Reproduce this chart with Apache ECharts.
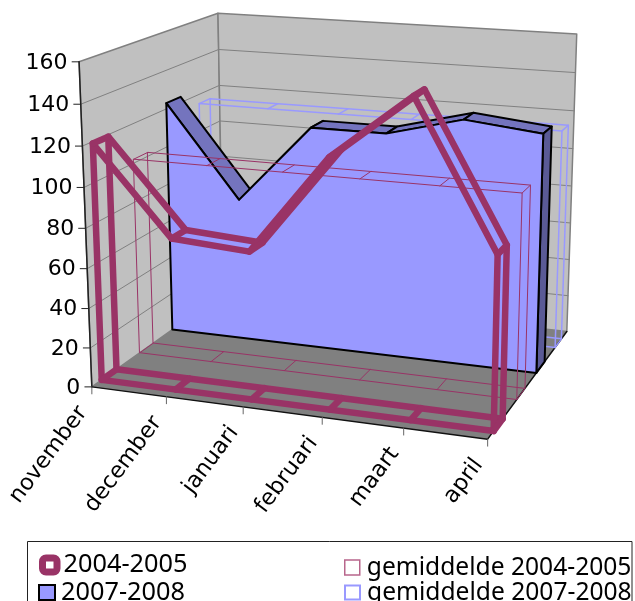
<!DOCTYPE html>
<html><head><meta charset="utf-8">
<style>html,body{margin:0;padding:0;background:#fff;overflow:hidden}#c{width:635px;height:601px}</style>
<script src="https://cdn.jsdelivr.net/npm/echarts@6/dist/echarts.min.js"></script>
</head><body><div id="c"></div>
<script>
const months = ['november','december','januari','februari','maart','april'];
const yTicks = [0,20,40,60,80,100,120,140,160];
const s0405 = [119,76,73.5,122,153,84];
const s0708 = [123,75,116,116,126,122];
const g0405 = [102,102,102,102,102,102];
const g0708 = [115,115,115,115,115,115];
const names = ['2004-2005','2007-2008','gemiddelde 2004-2005','gemiddelde 2007-2008'];
const depth = {a:[0.065,0.165], g1:[0.33,0.43], b:[0.575,0.685], g2:[0.83,0.92]};
const PINK='#993366', BLUE='#9999FF';
const GW=500, GH=500; // hidden grid used as the unit square of the plot box
// calibration of the box: [u,v,z, pageX,pageY, weight]
const CAL=[
 [0,0,0,92,387,3],[1,0,0,488,439,3],[.2,0,0,166,396.7,1],[.4,0,0,242,406.7,1],[.6,0,0,321,417,1],[.8,0,0,403,427.7,1],
 [0,.5,0,85.5,227.7,1],[0,1,0,79,62,3],
 [0,1,1,218,13,3],[1,1,1,576.7,34,3],[1,0,1,566.7,331.7,3],[0,0,1,223.3,288,.3],
 [1,.5,1,572,185,1],[0,.75,1,220,86,1]
];
function fitCamera(cal){
  const n=11,M=Array.from({length:n},()=>new Array(n+1).fill(0));
  const add=(r,b,g)=>{for(let i=0;i<n;i++){for(let j=0;j<n;j++)M[i][j]+=g*r[i]*r[j];M[i][n]+=g*r[i]*b;}};
  cal.forEach(([x,y,z,sx,sy,g])=>{
    add([x,y,z,1,0,0,0,0,-sx*x,-sx*y,-sx*z],sx,g*g);
    add([0,0,0,0,x,y,z,1,-sy*x,-sy*y,-sy*z],sy,g*g);
  });
  for(let c=0;c<n;c++){
    let p=c;for(let r=c+1;r<n;r++)if(Math.abs(M[r][c])>Math.abs(M[p][c]))p=r;
    [M[c],M[p]]=[M[p],M[c]];
    for(let r=0;r<n;r++){if(r===c)continue;const f=M[r][c]/M[c][c];for(let k=c;k<=n;k++)M[r][k]-=f*M[c][k];}
  }
  return M.map((row,i)=>row[n]/row[i]);
}
const K=fitCamera(CAL);
function P(u,v,z){const d=K[8]*u+K[9]*v+K[10]*z+1;return [(K[0]*u+K[1]*v+K[2]*z+K[3])/d,(K[4]*u+K[5]*v+K[6]*z+K[7])/d];}
// data point -> unit box via the hidden axes -> page
function D(api,i,val,z){const c=api.coord([i,val]);return P(c[0]/GW,1-c[1]/GH,z);}

function poly(points,style){return {type:'polygon',shape:{points},style};}
function line(points,stroke,lineWidth,close){return {type:close?'polygon':'polyline',shape:{points},style:{fill:'none',stroke,lineWidth,lineJoin:'round',lineCap:'round'}};}

function renderFrame(params,api){
  if(params.dataIndex!==0) return null;
  const ch=[];
  const wallS={fill:'#C0C0C0',stroke:'#808080',lineWidth:1.5,lineJoin:'round'};
  ch.push(poly([P(0,0,0),P(0,1,0),P(0,1,1),P(0,0,1)],wallS));
  ch.push(poly([P(0,0,1),P(0,1,1),P(1,1,1),P(1,0,1)],wallS));
  ch.push(poly([P(0,0,0),P(1,0,0),P(1,0,1),P(0,0,1)],{fill:'#808080',stroke:'none'}));
  yTicks.slice(1,-1).forEach(t=>{
    const a=D(api,0,t,0),b=D(api,0,t,1),c=D(api,5,t,1);
    ch.push(line([a,b,c],'#808080',1));
  });
  ch.push(line([D(api,0,0,0),D(api,0,160,0)],'#222',1.5));
  ch.push(line([P(0,0,0),P(1,0,0),P(1,0,1)],'#111',1.5));
  yTicks.forEach(t=>{
    const a=D(api,0,t,0);
    ch.push(line([a,[a[0]-7,a[1]]],'#222',1));
    ch.push({type:'text',style:{x:a[0]-11.5,y:a[1]+1,text:String(t),align:'right',verticalAlign:'middle',fontFamily:'DejaVu Sans',fontSize:22,fill:'#000'}});
  });
  months.forEach((m,i)=>{
    const a=D(api,i,0,0);
    ch.push(line([a,[a[0],a[1]+7]],'#666',1));
    ch.push({type:'text',x:a[0]-9,y:a[1]+22,rotation:0.93,style:{x:0,y:0,text:m,align:'right',verticalAlign:'middle',fontFamily:'DejaVu Sans',fontSize:22.5,fill:'#000'}});
  });
  return {type:'group',children:ch};
}
function outline(vals,dz,stroke,lw){
  return function(params,api){
    if(params.dataIndex!==0) return null;
    const ch=[];
    const n=vals.length;
    dz.slice().reverse().forEach(z=>{
      const top=vals.map((v,i)=>D(api,i,v,z));
      ch.push(line(top.concat([D(api,n-1,0,z),D(api,0,0,z)]),stroke,lw,true));
    });
    vals.forEach((v,i)=>{
      ch.push(line([D(api,i,v,dz[0]),D(api,i,v,dz[1])],stroke,lw));
      ch.push(line([D(api,i,0,dz[0]),D(api,i,0,dz[1])],stroke,lw));
    });
    return {type:'group',children:ch};
  };
}
function renderBlock(vals,dz){
  return function(params,api){
    if(params.dataIndex!==0) return null;
    const ch=[],n=vals.length,st=(fill)=>({fill,stroke:'#000',lineWidth:2,lineJoin:'round'});
    vals.forEach((v,i)=>{ if(i<n-1) ch.push(poly([D(api,i,v,dz[0]),D(api,i,v,dz[1]),D(api,i+1,vals[i+1],dz[1]),D(api,i+1,vals[i+1],dz[0])],st('#7474BE'))); });
    ch.push(poly([D(api,n-1,vals[n-1],dz[0]),D(api,n-1,vals[n-1],dz[1]),D(api,n-1,0,dz[1]),D(api,n-1,0,dz[0])],st('#5A5A96')));
    const front=vals.map((v,i)=>D(api,i,v,dz[0])).concat([D(api,n-1,0,dz[0]),D(api,0,0,dz[0])]);
    ch.push(poly(front,st(BLUE)));
    return {type:'group',children:ch};
  };
}
function ser(name,vals,renderItem,z,color){
  return {type:'custom',name,silent:true,z,renderItem,data:vals.map((v,i)=>[i,v]),encode:{x:0,y:1},itemStyle:{color}};
}
function leg(name,left,top,w,hh,icon,color,border,bw,pad,fs){
  return {left,top,padding:0,height:100,orient:'vertical',itemWidth:w,itemHeight:hh,selectedMode:false,
    textStyle:{fontFamily:'Noto Sans',fontSize:fs,color:'#000',padding:pad},
    data:[{name,icon,itemStyle:{color,borderColor:border,borderWidth:bw}}]};
}
const chart=echarts.init(document.getElementById('c'),null,{renderer:'canvas'});
chart.setOption({
  animation:false,
  grid:{left:0,top:0,width:GW,height:GH},
  xAxis:{type:'category',data:months,boundaryGap:false,show:false},
  yAxis:{type:'value',min:0,max:160,interval:20,show:false},
  graphic:[{type:'rect',z:-1,shape:{x:27.5,y:541.5,width:604.5,height:100},style:{fill:'#fff',stroke:'#222',lineWidth:1}}],
  legend:[
   leg(names[0],39,552.5,14.5,14,'roundRect','#fff',PINK,7,[3,0,0,1.5],25.3),
   leg(names[1],38,580,16,15,'rect',BLUE,'#000',2,[0,0,0,1],25.3),
   leg(names[2],344,555,15,15,'rect','#fff','#B8668C',1.5,[0,0,3,2],24.6),
   leg(names[3],344,580,15,14,'rect','#fff',BLUE,2,[0,0,0,2],24.6)
  ],
  series:[
    ser('frame',yTicks,renderFrame,1,'#808080'),
    ser(names[3],g0708,outline(g0708,depth.g2,BLUE,1.5),2,BLUE),
    ser(names[1],s0708,renderBlock(s0708,depth.b),3,BLUE),
    ser(names[2],g0405,outline(g0405,depth.g1,PINK,1),4,PINK),
    ser(names[0],s0405,outline(s0405,depth.a,PINK,6.5),5,PINK)
  ]
});
</script></body></html>
